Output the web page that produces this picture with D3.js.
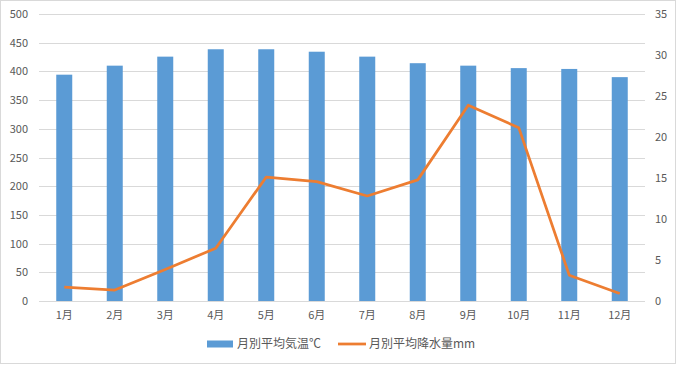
<!DOCTYPE html>
<html>
<head>
<meta charset="utf-8">
<script src="https://cdn.jsdelivr.net/npm/d3@7"></script>
<style>
  body { margin: 0; background: #fff; }
  text { font-family: "Noto Sans CJK JP", "Noto Sans", sans-serif; fill: #595959; }
</style>
</head>
<body>
<script>
'use strict';

// chart data
let months = ["1月", "2月", "3月", "4月", "5月", "6月", "7月", "8月", "9月", "10月", "11月", "12月"];
let temperature = [27.6, 28.7, 29.8, 30.7, 30.7, 30.4, 29.8, 29.0, 28.7, 28.4, 28.3, 27.3]; // ℃, right axis
let rainfall = [24, 19, 55, 92, 216, 208, 183, 211, 341, 302, 45, 13]; // mm, left axis
let leftTicks = [0, 50, 100, 150, 200, 250, 300, 350, 400, 450, 500];
let rightTicks = [0, 5, 10, 15, 20, 25, 30, 35];
let seriesNames = ["月別平均気温℃", "月別平均降水量mm"];

let width = 679, height = 371;
let svg = d3.select('body').append('svg')
  .attr('width', width)
  .attr('height', height);

// outer chart border
svg.append('rect')
  .attr('x', 0.5).attr('y', 0.5)
  .attr('width', 675).attr('height', 363)
  .attr('fill', '#fff')
  .attr('stroke', '#d9d9d9');

let plot = { left: 39, right: 645, top: 14, bottom: 301 };

let xScale = d3.scaleBand()
  .domain(months)
  .range([plot.left, plot.right]);

let yLeft = d3.scaleLinear().domain([0, 500]).range([plot.bottom, plot.top]);
let yRight = d3.scaleLinear().domain([0, 35]).range([plot.bottom, plot.top]);

// gridlines
svg.append('g').selectAll('line')
  .data(leftTicks)
  .enter().append('line')
  .attr('x1', plot.left).attr('x2', plot.right)
  .attr('y1', d => Math.round(yLeft(d)) + 0.5)
  .attr('y2', d => Math.round(yLeft(d)) + 0.5)
  .attr('stroke', '#d9d9d9');

// left axis labels
let leftAxis = d3.axisLeft(yLeft).tickValues(leftTicks).tickSize(0).tickPadding(11);
let gl = svg.append('g').attr('transform', 'translate(' + plot.left + ',0)').call(leftAxis);
gl.select('.domain').remove();
gl.selectAll('text').style('font-size', '11px').attr('font-family', null).attr('fill', null);

// right axis labels
let rightAxis = d3.axisRight(yRight).tickValues(rightTicks).tickSize(0).tickPadding(10);
let gr = svg.append('g').attr('transform', 'translate(' + plot.right + ',0)').call(rightAxis);
gr.select('.domain').remove();
gr.selectAll('text').style('font-size', '11px').attr('font-family', null).attr('fill', null);

// x axis labels
let bottomAxis = d3.axisBottom(xScale).tickSize(0).tickPadding(10);
let gb = svg.append('g').attr('transform', 'translate(0,' + plot.bottom + ')').call(bottomAxis);
gb.select('.domain').remove();
gb.selectAll('text').style('font-size', '11px').attr('font-family', null).attr('fill', null);

// bars (temperature)
let barW = 16;
svg.append('g').selectAll('rect')
  .data(temperature)
  .enter().append('rect')
  .attr('x', (d, i) => xScale(months[i]) + xScale.bandwidth() / 2 - barW / 2)
  .attr('y', d => yRight(d))
  .attr('width', barW)
  .attr('height', d => plot.bottom - yRight(d))
  .attr('fill', '#5b9bd5');

// line (rainfall)
let line = d3.line()
  .x((d, i) => xScale(months[i]) + xScale.bandwidth() / 2)
  .y(d => yLeft(d));

svg.append('path')
  .datum(rainfall)
  .attr('d', line)
  .attr('fill', 'none')
  .attr('stroke', '#ed7d31')
  .attr('stroke-width', 2.75)
  .attr('stroke-linejoin', 'round');

// legend
let legY = 344;
svg.append('rect')
  .attr('x', 207).attr('y', legY - 3.5)
  .attr('width', 26).attr('height', 7)
  .attr('fill', '#5b9bd5');
svg.append('text')
  .attr('x', 237).attr('y', legY)
  .attr('dy', '0.35em')
  .style('font-size', '12px')
  .text(seriesNames[0]);

svg.append('line')
  .attr('x1', 338).attr('x2', 366)
  .attr('y1', legY).attr('y2', legY)
  .attr('stroke', '#ed7d31')
  .attr('stroke-width', 2.75);
svg.append('text')
  .attr('x', 369).attr('y', legY)
  .attr('dy', '0.35em')
  .style('font-size', '12px')
  .text(seriesNames[1]);
</script>
</body>
</html>
